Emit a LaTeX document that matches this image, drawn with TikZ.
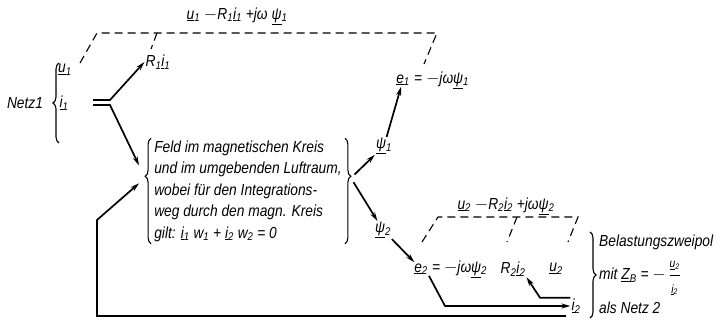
\documentclass[tikz,border=0pt]{standalone}
\usepackage{fontspec}
\setmainfont{Liberation Sans}[FakeStretch=0.86]
\usetikzlibrary{arrows, arrows.meta, positioning, decorations.pathreplacing}
\newcommand{\vek}[1]{\underline{#1}}
\newcommand{\ix}[1]{\textsubscript{#1}}
\newcommand{\smallfrac}[2]{\renewcommand{\arraystretch}{0.8}\begin{tabular}[c]{@{}c@{}}\fontsize{12}{12}\selectfont #1\\\hline\fontsize{12}{12}\selectfont #2\end{tabular}}
\tikzstyle{lbl} = [inner sep=1pt, font=\itshape\fontsize{16}{18}\selectfont]
\tikzstyle{arrow} = [line width=1.7pt,->,>={Stealth[length=9pt,width=5pt]}]
\tikzstyle{wire} = [line width=1.7pt]
\tikzstyle{dashline} = [line width=1.1pt, dash pattern=on 8pt off 5pt]
\tikzstyle{bracepath} = [line width=1.1pt, decorate, decoration={brace, amplitude=6pt}]

\begin{document}
\begin{tikzpicture}[x=1pt, y=-1pt]
\useasboundingbox (0,0) rectangle (722,324);

% Netz 1
\node (netz) [lbl] at (25,103) {Netz1};
\node (uone) [lbl] at (65,70) {\vek{u}\ix{1}};
\node (ione) [lbl] at (64,103) {\vek{i}\ix{1}};
\node (rone) [lbl] at (158,62) {R\ix{1}\vek{i}\ix{1}};
\node (labone) [lbl] at (237,16) {\vek{u}\ix{1} $-$R\ix{1}\vek{i}\ix{1} +jω \vek{ψ}\ix{1}};

% Feld
\node (feld) [lbl, align=left, inner xsep=3pt, inner ysep=2pt, font=\itshape\fontsize{16}{21.5}\selectfont] at (248,191)
  {Feld im magnetischen Kreis\\und im umgebenden Luftraum,\\wobei für den Integrations-\\weg durch den magn. Kreis\\gilt: \vek{i}\ix{1} w\ix{1} + \vek{i}\ix{2} w\ix{2} = 0};
\coordinate (feldL) at ([xshift=-6pt, yshift=13pt]feld.west);
\coordinate (feldR) at ([xshift=6pt, yshift=13pt]feld.east);

\node (psione) [lbl] at (384,146) {\vek{ψ}\ix{1}};
\node (eone) [lbl] at (403,80) {\vek{e}\ix{1}};
\node (eoneeq) [lbl, right=2pt of eone] {= $-$jω\vek{ψ}\ix{1}};
\node (psitwo) [lbl] at (383,230) {\vek{ψ}\ix{2}};

% Netz 2
\node (labtwo) [lbl] at (506,206) {\vek{u}\ix{2} $-$R\ix{2}\vek{i}\ix{2} +jω\vek{ψ}\ix{2}};
\node (etwo) [lbl] at (421,269) {\vek{e}\ix{2}};
\node (etwoeq) [lbl, right=2pt of etwo] {= $-$jω\vek{ψ}\ix{2}};
\node (rtwo) [lbl] at (513,269) {R\ix{2}\vek{i}\ix{2}};
\node (utwo) [lbl] at (556,269) {\vek{u}\ix{2}};
\node (itwo) [lbl] at (576,306) {\vek{i}\ix{2}};
\node (belast) [lbl, align=left, anchor=west, font=\itshape\fontsize{16}{31}\selectfont] at (598,274)
  {Belastungszweipol\\mit \vek{Z}\ix{B} = $-$ \smallfrac{\vek{u}\ix{2}}{\vek{i}\ix{2}}\\als Netz 2};

\coordinate (splitu) at (110,100);
\coordinate (splitd) at (110,105);
\coordinate (ecorner) at (445,0);
\coordinate (rcorner) at (540,0);
\coordinate (retr) at (566,316);
\coordinate (retl) at (97,316);
\coordinate (retu) at (97,220);

% braces
\draw [bracepath] (59,143) -- (59,63);
\draw [bracepath, decoration={aspect=0.64}] (feld.south west) -- (feld.north west);
\draw [bracepath, decoration={aspect=0.36}] (feld.north east) -- (feld.south east);
\draw [bracepath] (590,232) -- (590,318);

% dashed brackets
\draw [dashline] (80,63) -- (97,33) -- (437,33) -- (424,64);
\draw [dashline] (157,33) -- (151,49);
\draw [dashline] (422,242) -- (438,217) -- (578,217) -- (568,242);
\draw [dashline] (517,217) -- (507,242);

% connectors
\draw [arrow] (93,100) -- (splitu) -- (rone.west);
\draw [arrow, shorten >=14pt] (93,105) -- (splitd) -- (feldL);
\draw [arrow, shorten <=5pt] (feldR) -- (psione);
\draw [arrow, shorten <=5pt] (feldR) -- (psitwo);
\draw [arrow] (psione) -- (eone);
\draw [arrow] (psitwo) -- (etwo);
\draw [arrow] (etwo.south east) -- (ecorner |- itwo.west) -- (itwo.west);
\draw [arrow] (itwo.north west) -- (rcorner |- itwo.north west) -- (rtwo.south east);
\draw [arrow, shorten >=8pt] (retr) -- (retl) -- (retu) -- (feldL);

\end{tikzpicture}
\end{document}
